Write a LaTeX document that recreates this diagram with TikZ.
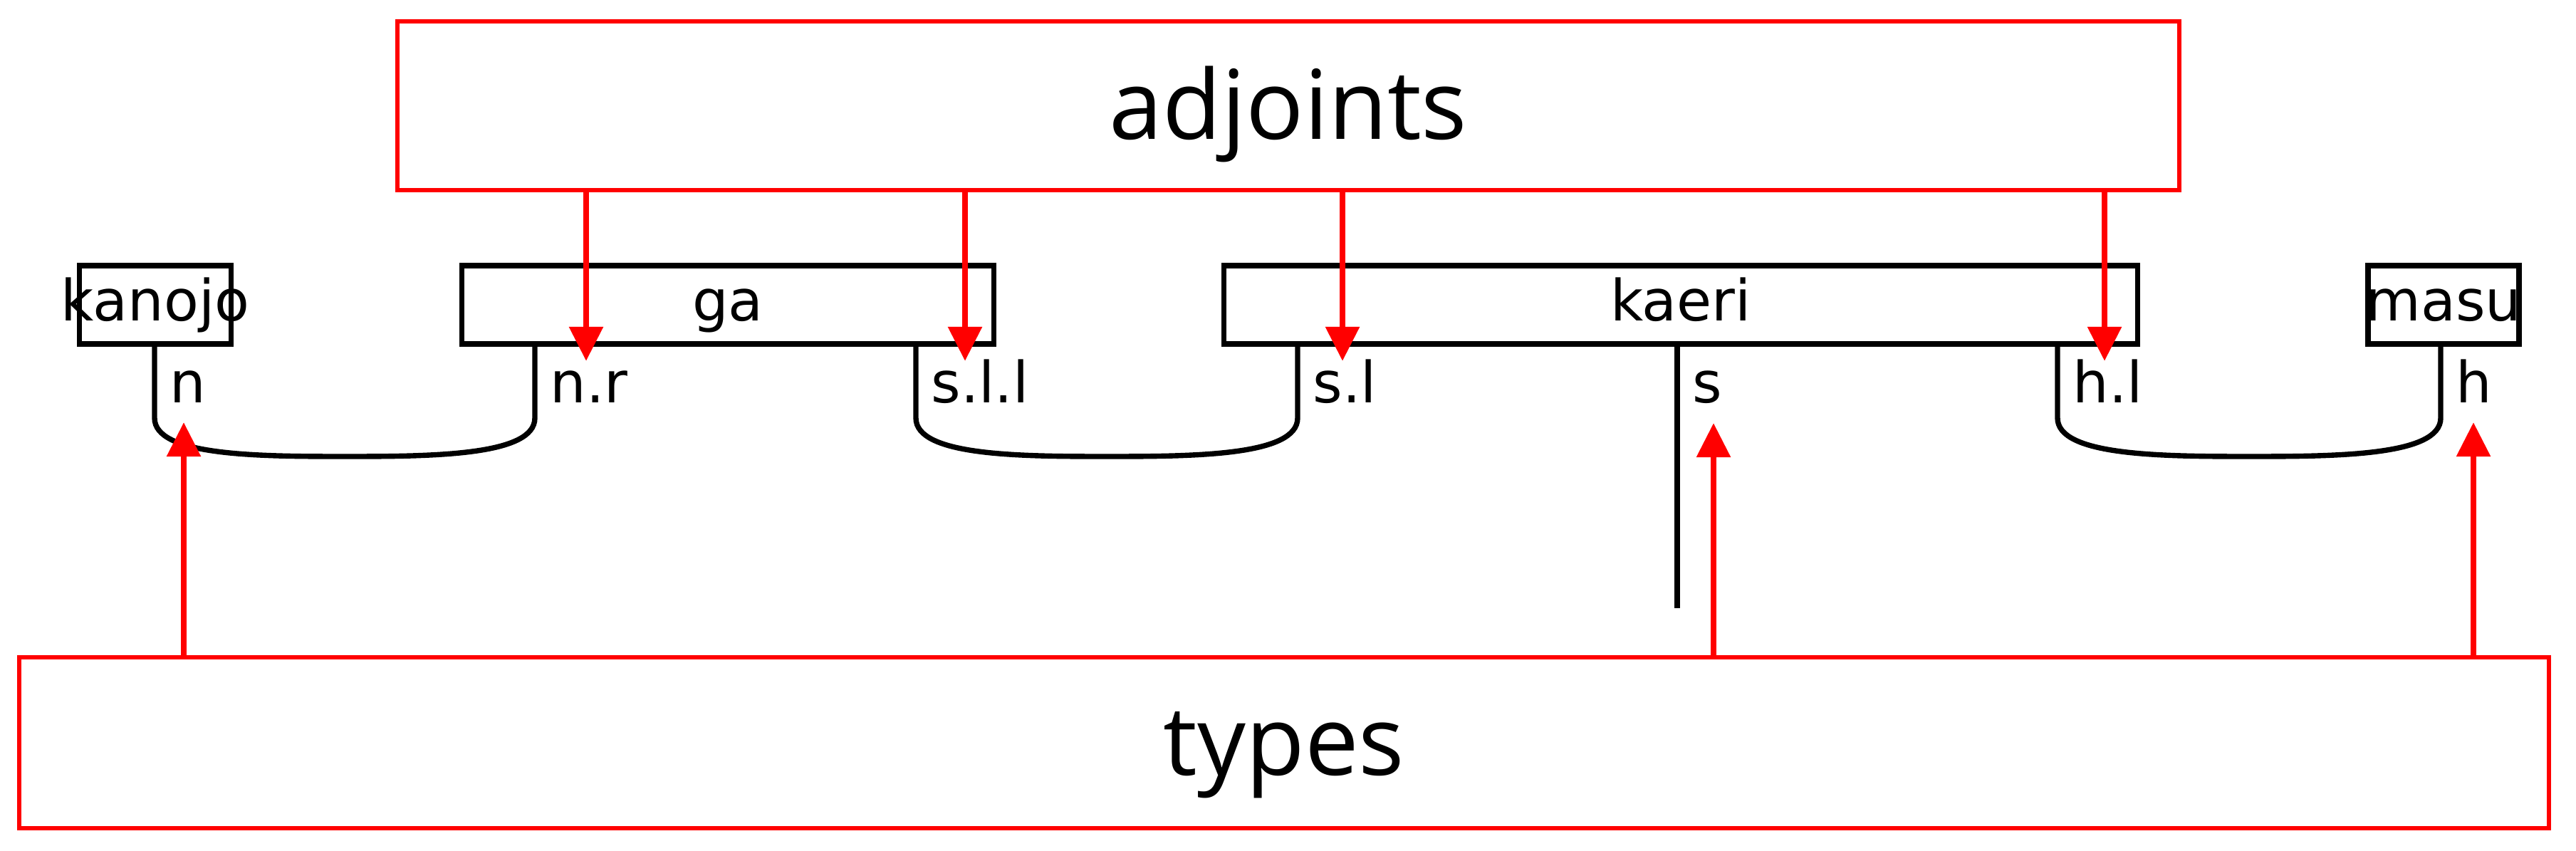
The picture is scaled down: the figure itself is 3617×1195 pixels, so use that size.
\documentclass[tikz,border=0pt]{standalone}
\usepackage{fontspec}
\setmainfont{DejaVu Sans}
\newfontfamily\bigfont{Open Sans}
\usetikzlibrary{arrows.meta}
\begin{document}
\begin{tikzpicture}[x=0.01cm,y=-0.01cm,
  wordbox/.style={draw=black, line width=2.1pt, inner sep=0pt, minimum height=1.10cm,
    text height=0.6cm, text depth=0.16cm, font=\fontsize{22.7}{27}\selectfont},
  wire/.style={draw=black, line width=2.1pt},
  lbl/.style={anchor=base west, inner sep=0pt, font=\fontsize{22.7}{27}\selectfont},
  redbox/.style={draw=red, line width=1.7pt, inner sep=0pt,
    text height=1.2cm, font=\bigfont\fontsize{38.4}{46}\selectfont},
  redarrow/.style={draw=red, line width=2.5pt, -{Triangle[length=0.48cm,width=0.46cm]}}]
\useasboundingbox (0,0) rectangle (3617,1195);

% word boxes
\node[wordbox, minimum width=2.13cm] (kanojo) at (218,428) {\makebox[0pt]{kanojo}};
\node[wordbox, minimum width=7.46cm] (ga) at (1022,428) {\makebox[0pt]{ga}};
\node[wordbox, minimum width=12.82cm] (kaeri) at (2360,428) {\makebox[0pt]{kaeri}};
\node[wordbox, minimum width=2.12cm] (masu) at (3431,428) {\makebox[0pt]{masu}};

% cup coordinates
\coordinate (wn) at (217,587);
\coordinate (wnr) at (751,587);
\coordinate (wsll) at (1286,587);
\coordinate (wsl) at (1822,587);
\coordinate (whl) at (2889,587);
\coordinate (wh) at (3427,587);
\coordinate (wsend) at (2355,854);
\coordinate (cn) at (484,641);
\coordinate (cs) at (1554,641);
\coordinate (ch) at (3158,641);

% wires and cups
\draw[wire] (kanojo.south -| wn) -- (wn) .. controls (217,640) and (360,641) .. (cn)
  .. controls (608,641) and (751,640) .. (wnr) -- (ga.south -| wnr);
\draw[wire] (ga.south -| wsll) -- (wsll) .. controls (1286,640) and (1430,641) .. (cs)
  .. controls (1678,641) and (1822,640) .. (wsl) -- (kaeri.south -| wsl);
\draw[wire] (kaeri.south -| whl) -- (whl) .. controls (2889,640) and (3034,641) .. (ch)
  .. controls (3282,641) and (3427,640) .. (wh) -- (masu.south -| wh);
\draw[wire] (kaeri.south -| wsend) -- (wsend);

% labels
\node[lbl] (ln) at (238,566) {n};
\node[lbl] (lnr) at (772,566) {n.r};
\node[lbl] (lsll) at (1307,566) {s.l.l};
\node[lbl] (lsl) at (1843,566) {s.l};
\node[lbl] (ls) at (2376,566) {s};
\node[lbl] (lhl) at (2910,566) {h.l};
\node[lbl] (lh) at (3448,566) {h};

% red boxes
\node[redbox, text depth=0.27cm, minimum width=25.0cm, minimum height=2.37cm] (adj) at (1809,148.5) {adjoints};
\node[redbox, text depth=0.30cm, minimum width=35.5cm, minimum height=2.40cm] (types) at (1803,1043) {types};

% arrow tips
\coordinate (a1) at (823,507);
\coordinate (a2) at (1355,507);
\coordinate (a3) at (1885,507);
\coordinate (a4) at (2955,507);
\coordinate (t1) at (258,593);
\coordinate (t2) at (2406,594);
\coordinate (t3) at (3473,593);

\draw[redarrow] (adj.south -| a1) -- (a1);
\draw[redarrow] (adj.south -| a2) -- (a2);
\draw[redarrow] (adj.south -| a3) -- (a3);
\draw[redarrow] (adj.south -| a4) -- (a4);
\draw[redarrow] (types.north -| t1) -- (t1);
\draw[redarrow] (types.north -| t2) -- (t2);
\draw[redarrow] (types.north -| t3) -- (t3);
\end{tikzpicture}
\end{document}
